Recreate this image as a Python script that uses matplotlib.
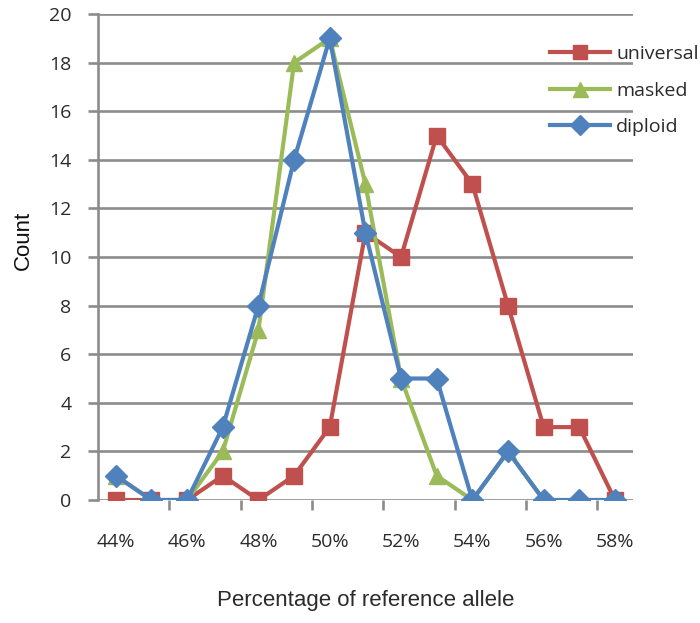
import matplotlib
matplotlib.use("Agg")
import matplotlib.pyplot as plt
import numpy as np

percent = [44, 45, 46, 47, 48, 49, 50, 51, 52, 53, 54, 55, 56, 57, 58]
universal = [0, 0, 0, 1, 0, 1, 3, 11, 10, 15, 13, 8, 3, 3, 0]
masked = [1, 0, 0, 2, 7, 18, 19, 13, 5, 1, 0, 2, 0, 0, 0]
diploid = [1, 0, 0, 3, 8, 14, 19, 11, 5, 5, 0, 2, 0, 0, 0]
tick_labels = ["44%", "46%", "48%", "50%", "52%", "54%", "56%", "58%"]

RED = "#C0504D"
GREEN = "#9BBB59"
BLUE = "#4F81BD"
GRID = "#8C8C8C"
TEXT = "#2b2b2b"

plt.rcParams["font.family"] = ["Open Sans", "DejaVu Sans"]

fig = plt.figure(figsize=(7.0, 6.23), dpi=100)
ax = fig.add_axes([0.14, 0.1974, 0.764, 0.7801])

x = np.arange(len(percent))
ax.plot(x, universal, color=RED, lw=3.0, marker="s", ms=11.5, label="universal", zorder=3)
ax.plot(x, masked, color=GREEN, lw=3.0, marker="^", ms=12, label="masked", zorder=4)
ax.plot(x, diploid, color=BLUE, lw=3.0, marker="D", ms=11, label="diploid", zorder=5)

ax.set_xlim(-0.5, len(percent) - 0.5)
ax.set_ylim(0, 20)
ax.set_yticks(range(0, 21, 2))
ax.yaxis.grid(True, color=GRID, lw=1.9)
ax.set_axisbelow(True)

# category labels on even positions, tick marks between category pairs
ax.set_xticks(x[::2])
ax.set_xticklabels(tick_labels)
ax.set_xticks(np.arange(1.5, len(percent) - 0.5, 2), minor=True)
ax.tick_params(axis="x", which="major", length=0, pad=24, labelsize=14, colors=TEXT)
ax.tick_params(axis="x", which="minor", length=7, width=1.9, color=GRID)
ax.tick_params(axis="y", length=7, width=1.9, color=GRID, labelsize=14, pad=12,
               labelcolor=TEXT)

for side in ("top", "right", "bottom"):
    ax.spines[side].set_visible(False)
ax.spines["left"].set_color(GRID)
ax.spines["left"].set_linewidth(1.9)

ax.set_xlabel("Percentage of reference allele", fontsize=16, color=TEXT,
              family="Liberation Sans", labelpad=28)
ax.set_ylabel("Count", fontsize=16, color="#111111", family="Liberation Sans")
ax.yaxis.set_label_coords(-0.119, 0.535)

leg = ax.legend(loc="upper left", bbox_to_anchor=(0.845, 0.936), frameon=False,
                fontsize=14, handlelength=3.1, labelspacing=0.95, handletextpad=0.3,
                borderaxespad=0, borderpad=0, markerscale=0.9)
for t in leg.get_texts():
    t.set_color(TEXT)

fig.savefig("out.png", dpi=100)
